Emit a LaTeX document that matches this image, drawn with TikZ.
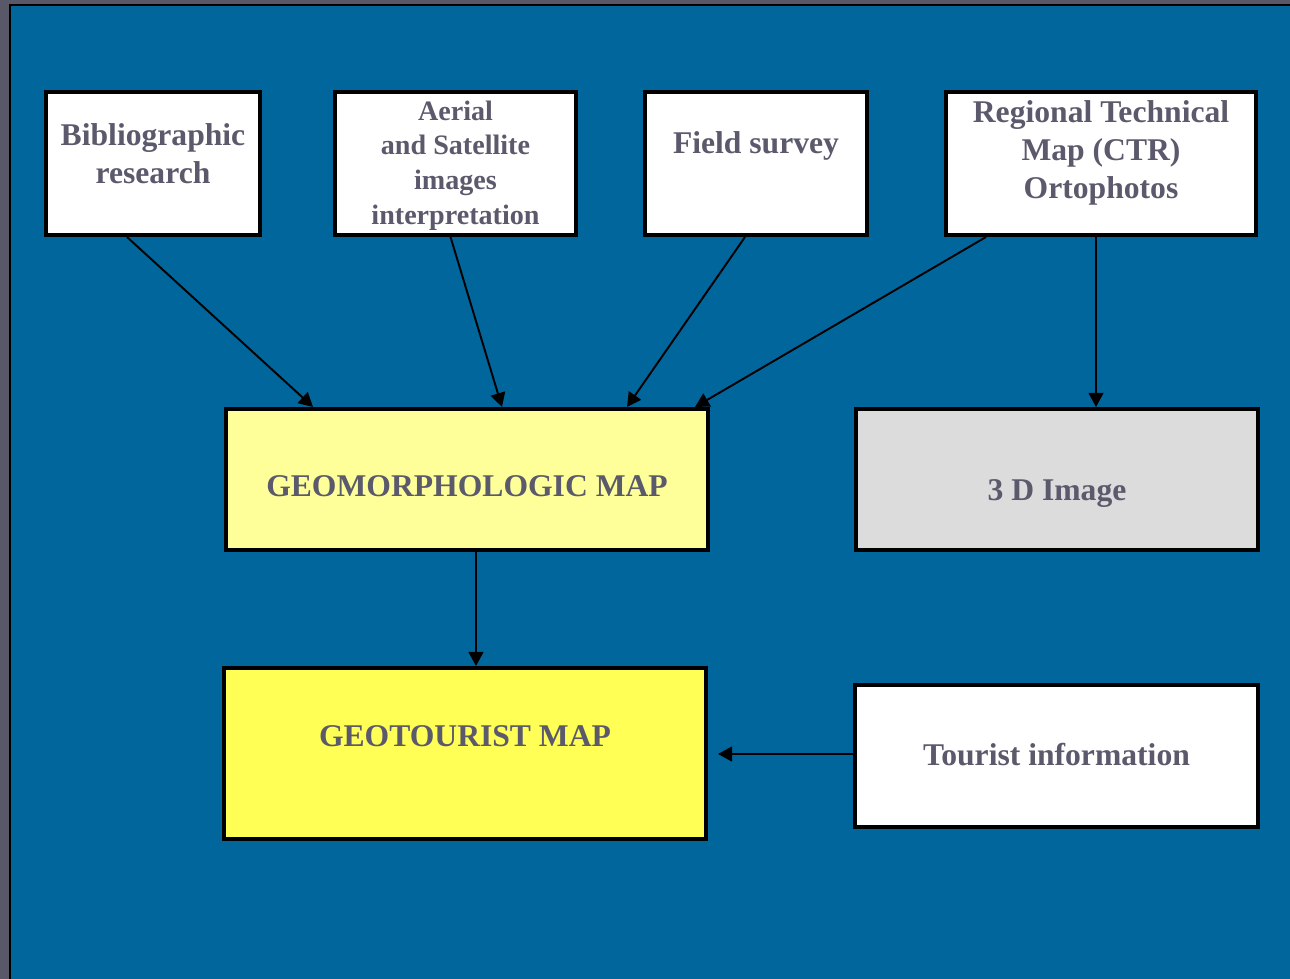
\documentclass[tikz,border=0pt]{standalone}
\usepackage{fontspec}
\setmainfont{Liberation Serif}
\usepackage{tikz}
\usetikzlibrary{positioning, calc, arrows.meta}

\definecolor{slideblue}{RGB}{0,102,156}
\definecolor{framegray}{RGB}{88,88,104}
\definecolor{labelgray}{RGB}{90,90,108}
\definecolor{paleyellow}{RGB}{255,255,153}
\definecolor{brightyellow}{RGB}{255,255,85}
\definecolor{imagegray}{RGB}{220,220,220}

\begin{document}
\begin{tikzpicture}[
  x=0.02cm, y=-0.02cm,
  >={Triangle[length=8pt, width=8.4pt]},
  srcbox/.style={rectangle, draw=black, line width=2.3pt, fill=white,
                 minimum height=2.86cm, inner sep=0pt},
  mapbox/.style={rectangle, draw=black, line width=2.3pt,
                 minimum width=9.64cm, inner sep=0pt},
  boxtext/.style={align=center, text=labelgray,
                  font=\fontsize{18}{21.6}\selectfont\bfseries},
  flow/.style={->, line width=1.1pt, black}
]
\useasboundingbox (0,0) rectangle (1290,979);

% --- slide background ---
\fill[framegray] (0,0) rectangle (1290,979);
\fill[slideblue] (10,5) rectangle (1290,979);
\draw[black, line width=0.6pt] (10,979) -- (10,5) -- (1290,5);

% --- source boxes, top row ---
\node[srcbox, minimum width=4.28cm] (bib) at (153,163.5) {};
\node[srcbox, minimum width=4.82cm] (aerial) at (455.5,163.5) {};
\node[srcbox, minimum width=4.44cm] (field) at (756,163.5) {};
\node[srcbox, minimum width=6.20cm] (ctr) at (1101,163.5) {};

\node[boxtext] (bibtxt) at ($(bib.center)+(0,-10)$) {Bibliographic\\research};
\node[boxtext, font=\fontsize{16}{19.8}\selectfont\bfseries] (aerialtxt)
  at ($(aerial.center)+(0,2)$) {Aerial\\and Satellite\\images\\interpretation};
\node[boxtext] (fieldtxt) at ($(field.center)+(0,-18)$) {Field survey};
\node[boxtext] (ctrtxt) at ($(ctr.center)+(0,-11)$)
  {Regional Technical\\Map (CTR)\\Ortophotos};

% --- maps ---
\node[mapbox, fill=paleyellow, minimum height=2.82cm] (geomap) at (467,479.5) {};
\node[boxtext] (geomaptxt) at ($(geomap.center)+(0,7)$) {GEOMORPHOLOGIC MAP};

\node[mapbox, fill=imagegray, minimum width=8.04cm, minimum height=2.82cm]
  (img3d) at (1057,479.5) {};
\node[boxtext] (img3dtxt) at ($(img3d.center)+(0,14)$) {3 D Image};

\node[mapbox, fill=brightyellow, minimum height=3.42cm] (tourmap) at (465,753.5) {};
\node[boxtext] (tourmaptxt) at ($(tourmap.center)+(0,-17)$) {GEOTOURIST MAP};

\node[srcbox, minimum width=8.06cm, minimum height=2.84cm] (tourinfo)
  at (1056.5,756) {};
\node[boxtext] (tourinfotxt) at ($(tourinfo.center)+(0,-1)$) {Tourist information};

% --- connectors ---
\draw[flow] ($(bib.south)+(-26,0)$) -- ($(geomap.north)+(-154,0)$);
\draw[flow] ($(aerial.south)+(-5,0)$) -- ($(geomap.north)+(35,0)$);
\draw[flow] ($(field.south)+(-11,0)$) -- ($(geomap.north)+(160,0)$);
\draw[flow] ($(ctr.south)+(-115,0)$) -- ($(geomap.north)+(228,0)$);

\coordinate (ctrdown) at ($(ctr.south)+(-5,0)$);
\draw[flow] (ctrdown) -- (ctrdown |- img3d.north);

\coordinate (geodown) at ($(geomap.south)+(9,0)$);
\draw[flow] (geodown) -- (geodown |- tourmap.north);

\draw[flow, shorten >=0.2cm] ($(tourinfo.west)+(0,-2)$) -- ($(tourinfo.west -| tourmap.east)+(0,-2)$);

\end{tikzpicture}
\end{document}
